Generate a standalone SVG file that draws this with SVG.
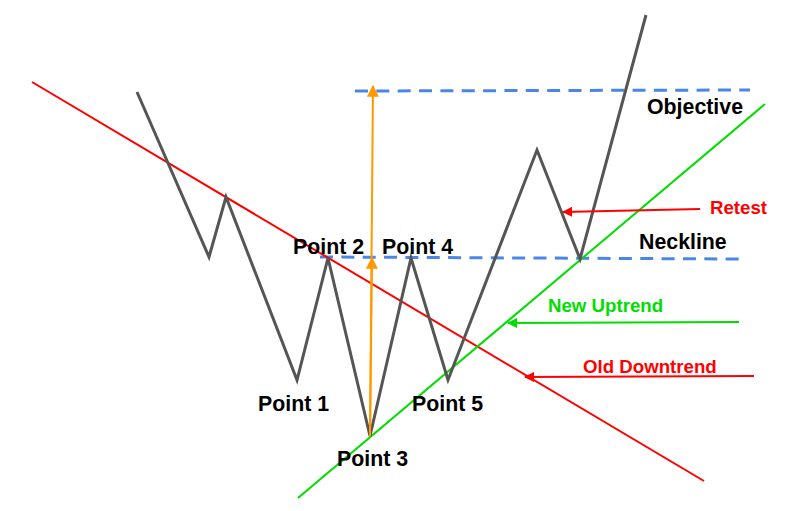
<svg xmlns="http://www.w3.org/2000/svg" width="810" height="511" viewBox="0 0 810 511">
<defs>
<style>
.lbl{font-family:"Liberation Sans",Arial,sans-serif;font-weight:bold;font-size:21.33px;fill:#000}
.sm{font-size:18.67px}
.dash{stroke:#4a86e8;stroke-width:3;stroke-dasharray:13 8.35;fill:none}
</style>
<marker id="ar" viewBox="0 0 10 10" refX="9" refY="5" markerWidth="14" markerHeight="10" orient="auto" markerUnits="userSpaceOnUse"><path d="M0,0 L10,5 L0,10 z" fill="#ff0000"/></marker>
<marker id="ag" viewBox="0 0 10 10" refX="9" refY="5" markerWidth="14" markerHeight="10" orient="auto" markerUnits="userSpaceOnUse"><path d="M0,0 L10,5 L0,10 z" fill="#00dd00"/></marker>
<marker id="ao2" viewBox="0 0 10 10" refX="9" refY="5" markerWidth="12" markerHeight="12" orient="auto" markerUnits="userSpaceOnUse"><path d="M0,0 L10,5 L0,10 z" fill="#ff9900"/></marker>
</defs>
<rect width="810" height="511" fill="#fff"/>
<g id="lines">
<line x1="355" y1="91" x2="750" y2="90" class="dash"/>
<line x1="320" y1="257" x2="740" y2="259" class="dash"/>
<line id="downtrend" x1="32" y1="82" x2="704" y2="481" stroke="#ff0000" stroke-width="2"/>
<line id="uptrend" x1="298" y1="498" x2="765" y2="104" stroke="#00dd00" stroke-width="2"/>
<polyline id="price" points="137,92 209,257 226,197 297,380 328,258 370,436 411,258 448,380 537,150 580,259 646,15" fill="none" stroke="#555555" stroke-width="3" stroke-linejoin="miter"/>
<line x1="370" y1="436" x2="372" y2="258" stroke="#ff9900" stroke-width="2" marker-end="url(#ao2)"/>
<line x1="370" y1="436" x2="373" y2="86" stroke="#ff9900" stroke-width="2" marker-end="url(#ao2)"/>
<line x1="700" y1="209" x2="563" y2="212" stroke="#ff0000" stroke-width="2" marker-end="url(#ar)"/>
<line x1="739" y1="322" x2="508" y2="323" stroke="#00dd00" stroke-width="2" marker-end="url(#ag)"/>
<line x1="754" y1="376" x2="525" y2="377" stroke="#ff0000" stroke-width="2" marker-end="url(#ar)"/>
</g>
<g id="labels">
<text class="lbl" x="647" y="114">Objective</text>
<text class="lbl" x="639" y="249">Neckline</text>
<text class="lbl" x="293" y="254">Point 2</text>
<text class="lbl" x="382" y="254">Point 4</text>
<text class="lbl" x="258" y="411">Point 1</text>
<text class="lbl" x="412" y="411">Point 5</text>
<text class="lbl" x="337" y="466">Point 3</text>
<text class="lbl sm" x="710" y="214" style="fill:#ff0000">Retest</text>
<text class="lbl sm" x="548" y="312" style="fill:#00dd00">New Uptrend</text>
<text class="lbl sm" x="583" y="373" style="fill:#ff0000">Old Downtrend</text>
</g>
</svg>
